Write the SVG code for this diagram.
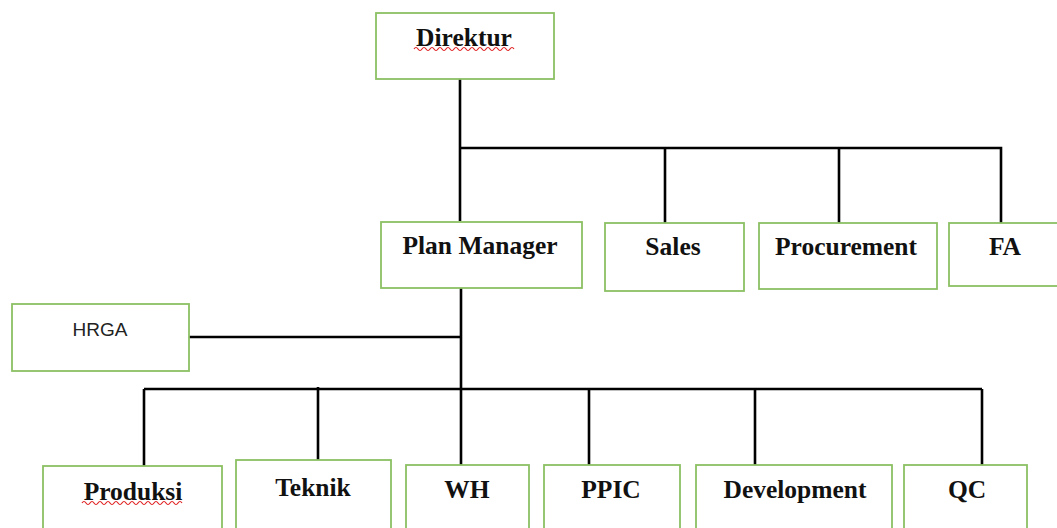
<svg xmlns="http://www.w3.org/2000/svg" width="1057" height="528" viewBox="0 0 1057 528">
<style>
.box{fill:#fff;stroke:#8cc063;stroke-width:1.8}
.lbl{font-family:"Liberation Serif","Times New Roman",serif;font-weight:bold;font-size:25.5px;fill:#111;text-anchor:middle}
.sans{font-family:"Liberation Sans",Arial,sans-serif;font-size:19px;fill:#222;text-anchor:middle}
.con{fill:none;stroke:#000;stroke-width:2.6}
.sq{fill:none;stroke:#e02020;stroke-width:1.2}
</style>
<rect width="1057" height="528" fill="#fff"/>
<g id="connectors">
<path class="con" d="M460 79V221M460 148H1001V223M665 148V223M839 148V223"/>
<path class="con" d="M461 288V465M189 337H461M144 389H982M144 389V466M318 387V460M589 389V465M755 389V465M982 389V465"/>
</g>
<g id="direktur"><rect class="box" x="376" y="13" width="178" height="66"/><text class="lbl" x="464" y="46">Direktur</text>
<path class="sq" d="M414 49q2-3 4 0t4 0t4 0t4 0t4 0t4 0t4 0t4 0t4 0t4 0t4 0t4 0t4 0t4 0t4 0t4 0t4 0t4 0t4 0t4 0t4 0t4 0t4 0t4 0t4 0"/></g>
<g id="plan-manager"><rect class="box" x="381" y="222" width="201" height="66"/><text class="lbl" x="480" y="254">Plan Manager</text></g>
<g id="sales"><rect class="box" x="605" y="223" width="139" height="68"/><text class="lbl" x="673" y="255">Sales</text></g>
<g id="procurement"><rect class="box" x="759" y="223" width="178" height="66"/><text class="lbl" x="846" y="255">Procurement</text></g>
<g id="fa"><rect class="box" x="949" y="223" width="120" height="63"/><text class="lbl" x="1005" y="255">FA</text></g>
<g id="hrga"><rect class="box" x="12" y="304" width="177" height="67"/><text class="sans" x="100" y="336">HRGA</text></g>
<g id="produksi"><rect class="box" x="43" y="466" width="179" height="80"/><text class="lbl" x="133" y="500">Produksi</text>
<path class="sq" d="M82 503q2-3 4 0t4 0t4 0t4 0t4 0t4 0t4 0t4 0t4 0t4 0t4 0t4 0t4 0t4 0t4 0t4 0t4 0t4 0t4 0t4 0t4 0t4 0t4 0t4 0t4 0"/></g>
<g id="teknik"><rect class="box" x="236" y="460" width="155" height="80"/><text class="lbl" x="313" y="496">Teknik</text></g>
<g id="wh"><rect class="box" x="406" y="465" width="123" height="80"/><text class="lbl" x="467" y="498">WH</text></g>
<g id="ppic"><rect class="box" x="544" y="465" width="136" height="80"/><text class="lbl" x="611" y="498">PPIC</text></g>
<g id="development"><rect class="box" x="696" y="465" width="196" height="80"/><text class="lbl" x="795" y="498">Development</text></g>
<g id="qc"><rect class="box" x="904" y="465" width="123" height="80"/><text class="lbl" x="967" y="498">QC</text></g>
</svg>
